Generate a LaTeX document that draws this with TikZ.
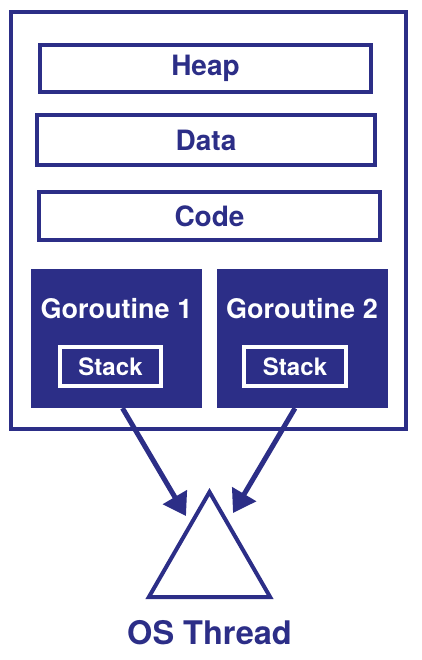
\documentclass[tikz,border=0pt]{standalone}
\usepackage{fontspec}
\setmainfont{TeX Gyre Heros}
\usepackage{xcolor}
\usepackage{tikz}
\usetikzlibrary{arrows.meta,shapes.geometric}
\definecolor{goblue}{RGB}{44,46,135}

\begin{document}
\begin{tikzpicture}[x=1pt, y=-1pt,
    segbox/.style={rectangle, draw=goblue, line width=4pt, inner sep=0pt, font=\fontsize{28}{30}\selectfont\bfseries, text=goblue},
    gorbox/.style={rectangle, fill=goblue, inner sep=0pt, minimum width=171pt, minimum height=139pt},
    stackbox/.style={rectangle, draw=white, line width=4pt, inner sep=0pt, minimum height=39pt, font=\fontsize{24}{26}\selectfont\bfseries, text=white},
    feed/.style={-{Triangle[length=22pt,width=27pt]}, draw=goblue, line width=5pt}]
    \useasboundingbox (0,0) rectangle (422,660);

    \node (proc) [rectangle, draw=goblue, line width=4pt, inner sep=0pt, minimum width=395pt, minimum height=417pt] at (208.5,220.5) {};
    \node (heap) [segbox, minimum width=331pt, minimum height=47pt] at (205.5,68.5) {Heap};
    \node (data) [segbox, minimum width=338pt, minimum height=50pt] at (206,140) {Data};
    \node (code) [segbox, minimum width=341pt, minimum height=48pt] at (209.5,216) {Code};

    \node (g1) [gorbox] at (116.5,338.5) {};
    \node (g2) [gorbox] at (302,338.5) {};
    \node (g1label) [text=white, font=\fontsize{27}{29}\selectfont\bfseries] at (116.5,309) {Goroutine 1};
    \node (g2label) [text=white, font=\fontsize{27}{29}\selectfont\bfseries] at (302,309) {Goroutine 2};
    \node (stack1) [stackbox, minimum width=101pt] at (110.5,366.5) {Stack};
    \node (stack2) [stackbox, minimum width=102pt] at (295,366.5) {Stack};

    \node (thread) [regular polygon, regular polygon sides=3, draw=goblue, line width=4pt, inner sep=0pt, minimum size=140pt] at (209.5,562) {};
    \node (threadlabel) [text=goblue, font=\fontsize{32.5}{34}\selectfont\bfseries] at (209.5,633) {OS Thread};

    \coordinate (tip1) at (186,516);
    \coordinate (tip2) at (233,513);
    \draw [feed] ([xshift=6pt]g1.south) -- (tip1);
    \draw [feed] ([xshift=-7pt]g2.south) -- (tip2);
\end{tikzpicture}
\end{document}
